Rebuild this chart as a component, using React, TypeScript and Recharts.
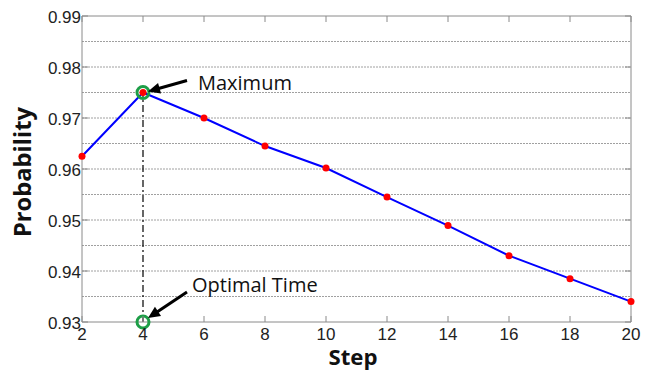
import { LineChart, Line, XAxis, YAxis, CartesianGrid, ReferenceLine, ReferenceDot } from "recharts";

const steps = [2, 4, 6, 8, 10, 12, 14, 16, 18, 20];
const probability = [0.9625, 0.975, 0.97, 0.9645, 0.9602, 0.9545, 0.9489, 0.943, 0.9385, 0.934];
const xTicks = [2, 4, 6, 8, 10, 12, 14, 16, 18, 20];
const yTicks = [0.93, 0.94, 0.95, 0.96, 0.97, 0.98, 0.99];
const gridValues = [0.935, 0.94, 0.945, 0.95, 0.955, 0.96, 0.965, 0.97, 0.975, 0.98, 0.985];
const optimalStep = 4;
const maxProbability = 0.975;

const data = steps.map((s, i) => ({ step: s, p: probability[i] }));

const W = 648;
const H = 373;
const PLOT = { left: 82, right: 631, top: 16, bottom: 322 };
const AXIS = "#8a8a8a";
const TICK_FONT = "'Liberation Sans', Arial, sans-serif";
const NOTE_FONT = "'Open Sans', sans-serif";
const GREEN = "#1d9e47";

function XTick({ x, payload }: any) {
  return (
    <g>
      <line x1={x} x2={x} y1={PLOT.bottom} y2={PLOT.bottom - 6} stroke={AXIS} />
      <line x1={x} x2={x} y1={PLOT.top} y2={PLOT.top + 6} stroke={AXIS} />
      <text x={x} y={PLOT.bottom + 18} textAnchor="middle" fontSize={17} fontFamily={TICK_FONT} fill="#222">
        {payload.value}
      </text>
    </g>
  );
}

function YTick({ y, payload }: any) {
  return (
    <g>
      <line x1={PLOT.left} x2={PLOT.left + 6} y1={y} y2={y} stroke={AXIS} />
      <line x1={PLOT.right - 6} x2={PLOT.right} y1={y} y2={y} stroke={AXIS} />
      <text x={PLOT.left - 1} y={y + 7} textAnchor="end" fontSize={17} fontFamily={TICK_FONT} fill="#222">
        {payload.value.toFixed(2)}
      </text>
    </g>
  );
}

function Arrow({ x1, y1, x2, y2 }: { x1: number; y1: number; x2: number; y2: number }) {
  const dx = x2 - x1;
  const dy = y2 - y1;
  const len = Math.hypot(dx, dy);
  const ux = dx / len;
  const uy = dy / len;
  const head = 12;
  const half = 5.5;
  const bx = x2 - ux * head;
  const by = y2 - uy * head;
  const pts = `${x2},${y2} ${bx - uy * half},${by + ux * half} ${bx + uy * half},${by - ux * half}`;
  return (
    <g>
      <line x1={x1} y1={y1} x2={bx + ux * 2} y2={by + uy * 2} stroke="#000" strokeWidth={3} />
      <polygon points={pts} fill="#000" />
    </g>
  );
}

function Marker({ cx, cy, label, tail, tip, text }: any) {
  return (
    <g>
      <circle cx={cx} cy={cy} r={6} fill="none" stroke={GREEN} strokeWidth={3} />
      <Arrow x1={cx + tail[0]} y1={cy + tail[1]} x2={cx + tip[0]} y2={cy + tip[1]} />
      <text x={cx + text[0]} y={cy + text[1]} fontSize={20} fontFamily={NOTE_FONT} fill="#111">
        {label}
      </text>
    </g>
  );
}

export default function App() {
  return (
    <div style={{ position: "absolute", left: 0, top: 0, width: W, height: H, background: "#fff" }}>
      <LineChart width={W} height={H} data={data} margin={{ top: PLOT.top, right: W - PLOT.right, bottom: 0, left: 0 }}>
        <CartesianGrid horizontalValues={gridValues} vertical={false} stroke="#a0a0a0" strokeDasharray="2 1" />
        <XAxis
          dataKey="step"
          type="number"
          domain={[2, 20]}
          ticks={xTicks}
          height={H - PLOT.bottom}
          axisLine={{ stroke: AXIS }}
          tickLine={false}
          tickSize={0}
          tickMargin={0}
          tick={<XTick />}
          interval={0}
          label={{
            content: () => (
              <text
                x={353}
                y={365}
                textAnchor="middle"
                fontSize={22}
                fontWeight="bold"
                fontFamily={NOTE_FONT}
                fill="#111"
                textLength={49}
                lengthAdjust="spacingAndGlyphs"
              >
                Step
              </text>
            ),
          }}
        />
        <YAxis
          type="number"
          domain={[0.93, 0.99]}
          ticks={yTicks}
          width={PLOT.left}
          axisLine={{ stroke: AXIS }}
          tickLine={false}
          tickSize={0}
          tickMargin={0}
          tick={<YTick />}
          interval={0}
          label={{
            content: () => (
              <text
                x={31}
                y={172}
                transform="rotate(-90, 31, 172)"
                textAnchor="middle"
                fontSize={23}
                fontWeight="bold"
                fontFamily={NOTE_FONT}
                fill="#111"
                textLength={130}
                lengthAdjust="spacingAndGlyphs"
              >
                Probability
              </text>
            ),
          }}
        />
        <ReferenceLine y={0.99} stroke={AXIS} />
        <ReferenceLine x={20} stroke={AXIS} />
        <ReferenceLine
          segment={[
            { x: optimalStep, y: 0.93 },
            { x: optimalStep, y: maxProbability },
          ]}
          stroke="#000"
          strokeWidth={1.2}
          strokeDasharray="7 3 2 3"
        />
        <Line
          dataKey="p"
          stroke="#0000ff"
          strokeWidth={2}
          dot={{ r: 3.5, fill: "#ff0000", stroke: "none" }}
          isAnimationActive={false}
        />
        <ReferenceDot
          x={optimalStep}
          y={maxProbability}
          shape={(p: any) => (
            <Marker cx={p.cx} cy={p.cy} label="Maximum" tail={[44, -12]} tip={[5, -1]} text={[55, -3]} />
          )}
        />
        <ReferenceDot
          x={optimalStep}
          y={0.93}
          shape={(p: any) => (
            <Marker cx={p.cx} cy={p.cy} label="Optimal Time" tail={[44, -30]} tip={[5, -4]} text={[49, -30]} />
          )}
        />
      </LineChart>
    </div>
  );
}
